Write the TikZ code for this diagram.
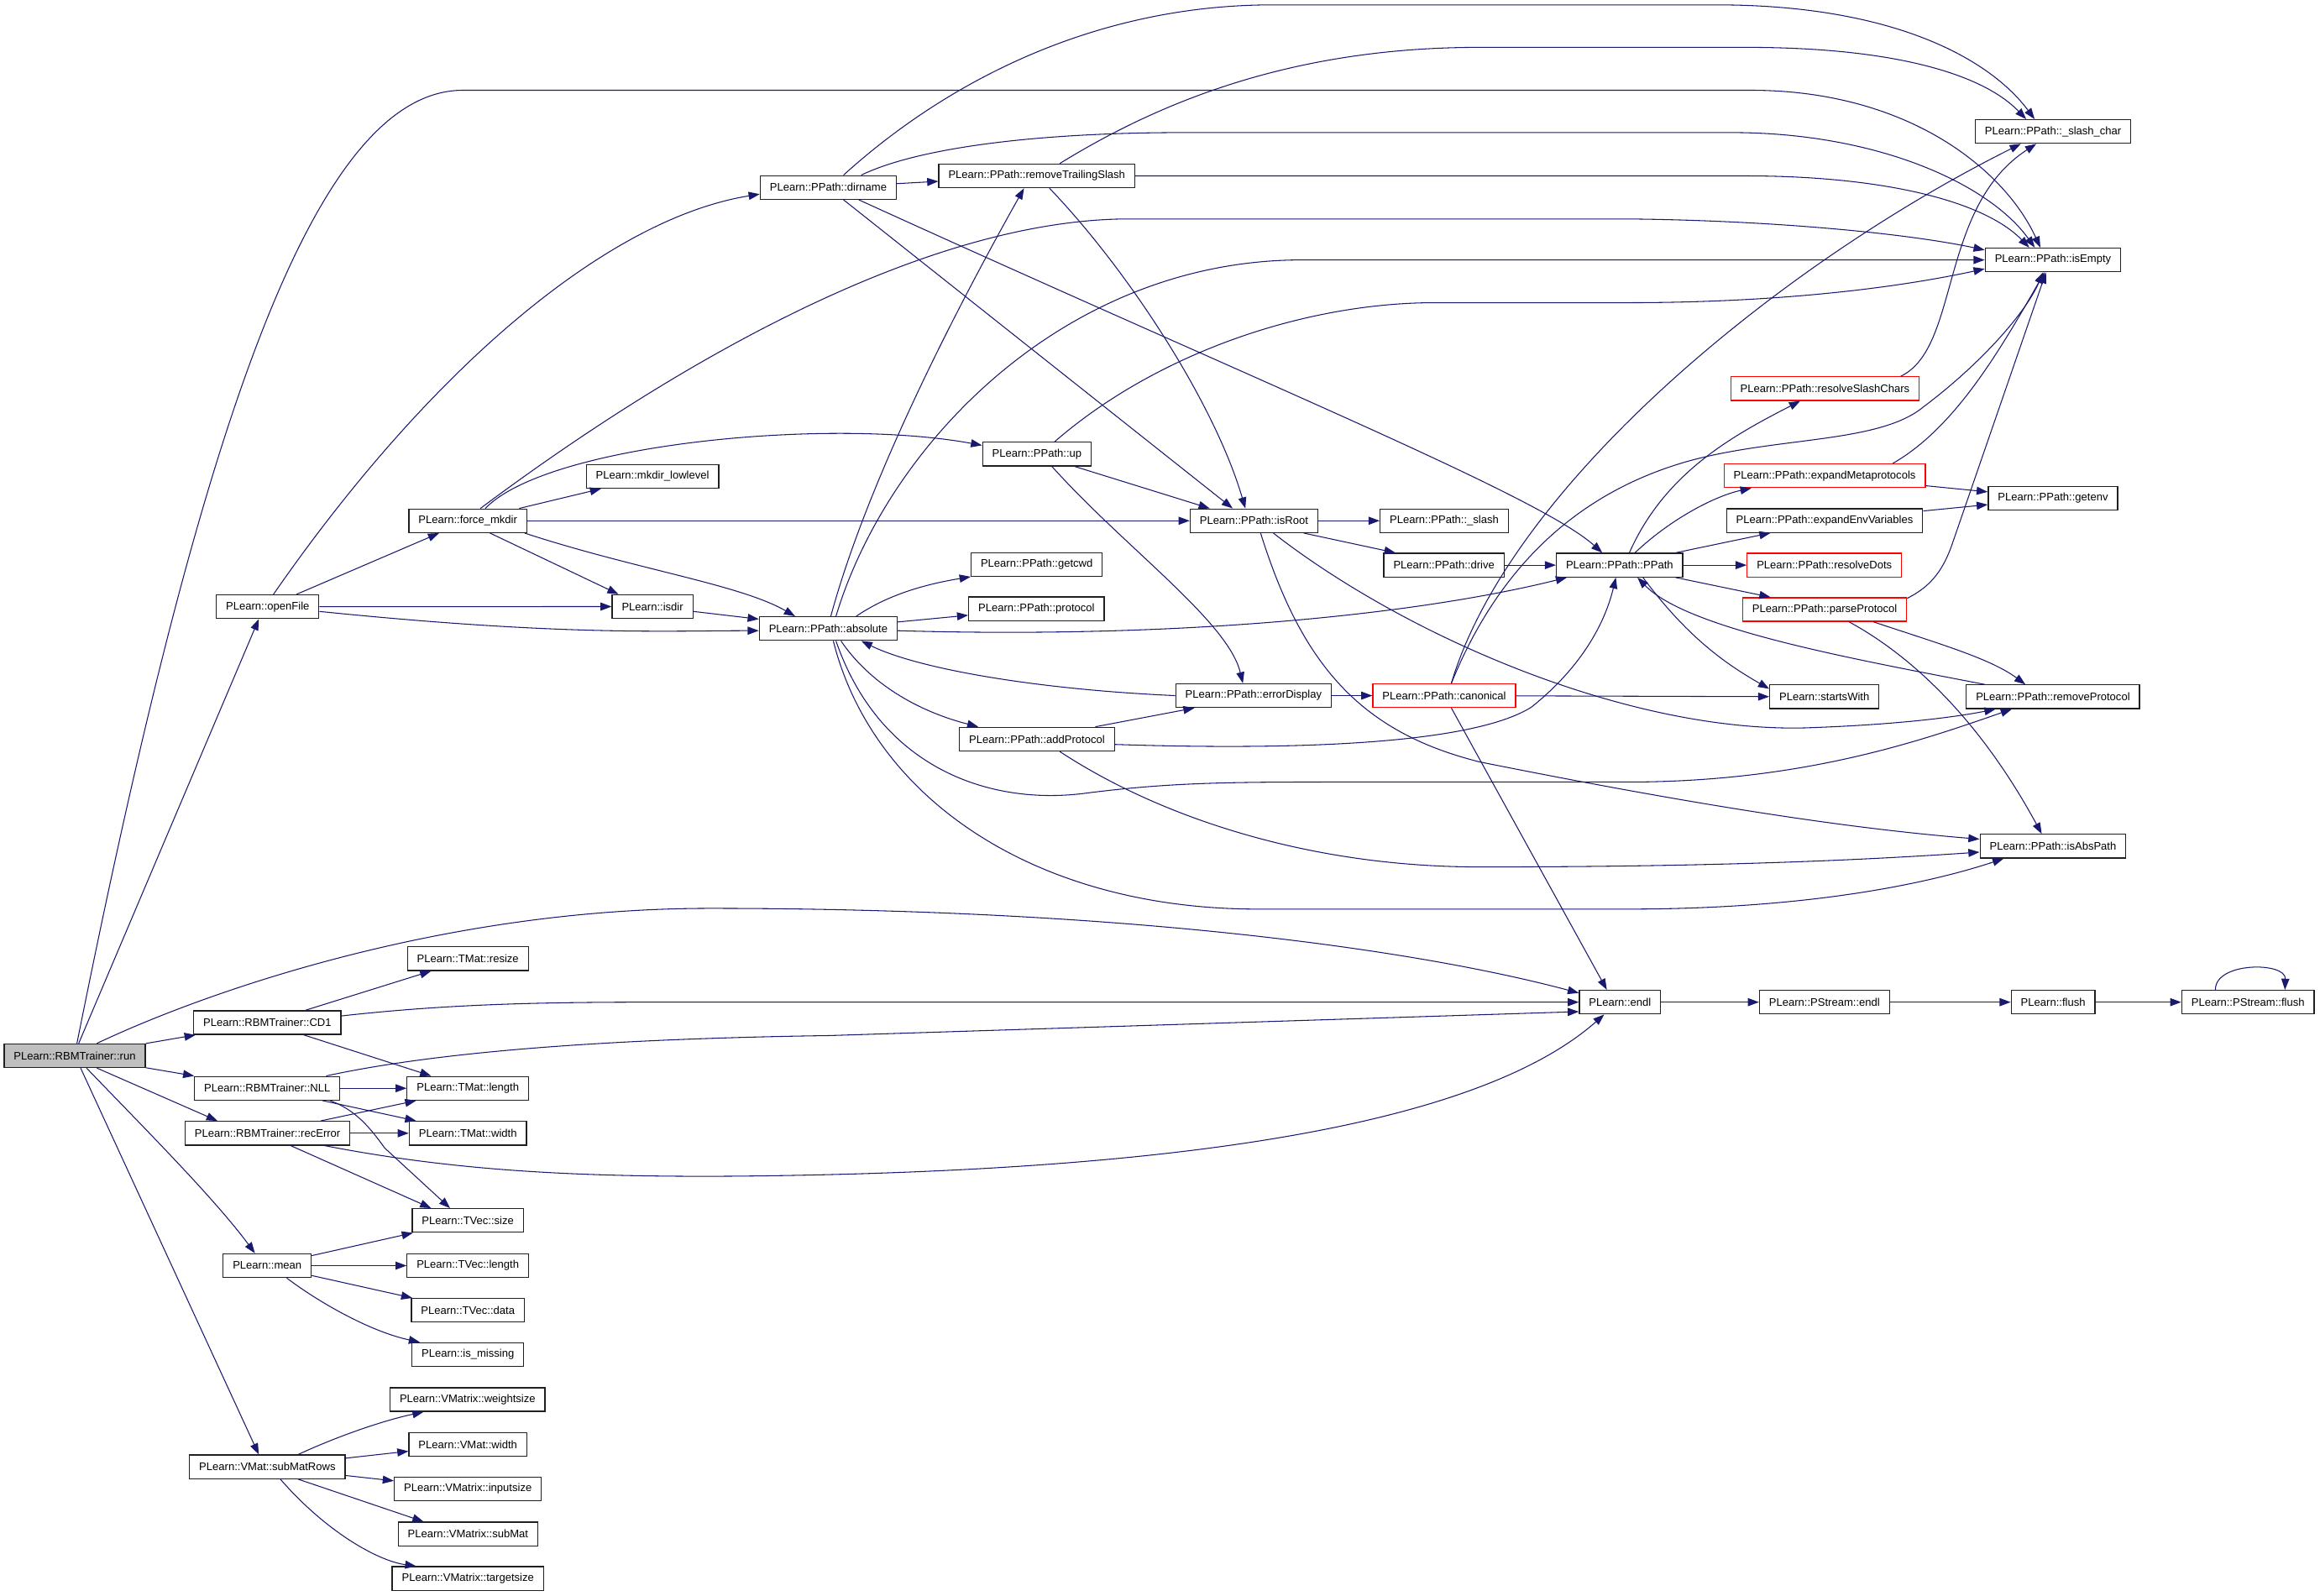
\documentclass[tikz,border=0pt]{standalone}
\usepackage{fontspec}
\setmainfont{Liberation Sans}
\usetikzlibrary{arrows.meta}
\definecolor{calledge}{HTML}{191970}
\definecolor{fnborder}{HTML}{202020}
\definecolor{fngray}{HTML}{BFBFBF}
\begin{document}
\begin{tikzpicture}[x=1pt, y=-1pt,
  fn/.style={draw=fnborder, line width=0.7pt, fill=white, minimum height=16pt,
    inner xsep=6.5pt, inner ysep=0pt, font=\fontsize{7.4}{8}\selectfont},
  fnred/.style={fn, draw=red},
  calls/.style={draw=calledge, line width=0.6pt, -{Triangle[length=7.5pt,width=5.4pt]}}]

\useasboundingbox[fill=white] (0,0) rectangle (1568,1078.8);

% Functions
\node[fn, fill=fngray] (run) at (50.5,713.6) {PLearn::RBMTrainer::run};
\node[fn] (openFile) at (180.9,410.1) {PLearn::openFile};
\node[fn] (forcemkdir) at (316.2,352) {PLearn::force\_mkdir};
\node[fn] (mkdirlow) at (441,322) {PLearn::mkdir\_lowlevel};
\node[fn] (isdir) at (441,410) {PLearn::isdir};
\node[fn] (dirname) at (559.8,126.7) {PLearn::PPath::dirname};
\node[fn] (removeTS) at (700.7,118.9) {PLearn::PPath::removeTrailingSlash};
\node[fn] (up) at (700.8,307) {PLearn::PPath::up};
\node[fn] (absolute) at (559.8,424.9) {PLearn::PPath::absolute};
\node[fn] (getcwd) at (700.7,381.5) {PLearn::PPath::getcwd};
\node[fn] (protocol) at (700.5,411.5) {PLearn::PPath::protocol};
\node[fn] (addProtocol) at (700.8,499.6) {PLearn::PPath::addProtocol};
\node[fn] (errorDisplay) at (847.2,470.2) {PLearn::PPath::errorDisplay};
\node[fn] (isRoot) at (847.5,352) {PLearn::PPath::isRoot};
\node[fn] (slash) at (976.1,352) {PLearn::PPath::\_slash};
\node[fn] (drive) at (975.9,382) {PLearn::PPath::drive};
\node[fnred] (canonical) at (976.1,470.2) {PLearn::PPath::canonical};
\node[fn] (PPath) at (1094.6,382) {PLearn::PPath::PPath};
\node[fnred] (resolveSlash) at (1233.4,262.7) {PLearn::PPath::resolveSlashChars};
\node[fnred] (expandMeta) at (1233.2,321.6) {PLearn::PPath::expandMetaprotocols};
\node[fn] (expandEnv) at (1233.2,351.9) {PLearn::PPath::expandEnvVariables};
\node[fnred] (resolveDots) at (1233,382) {PLearn::PPath::resolveDots};
\node[fnred] (parseProtocol) at (1233.2,412) {PLearn::PPath::parseProtocol};
\node[fn] (startsWith) at (1233,471) {PLearn::startsWith};
\node[fn] (slashchar) at (1387.6,88.9) {PLearn::PPath::\_slash\_char};
\node[fn] (isEmpty) at (1387.5,175.7) {PLearn::PPath::isEmpty};
\node[fn] (getenv) at (1387.5,336.8) {PLearn::PPath::getenv};
\node[fn] (removeProtocol) at (1387.5,471) {PLearn::PPath::removeProtocol};
\node[fn] (isAbsPath) at (1387.5,572) {PLearn::PPath::isAbsPath};
\node[fn] (endl) at (1094.9,677.4) {PLearn::endl};
\node[fn] (psendl) at (1233.1,677.4) {PLearn::PStream::endl};
\node[fn] (flush) at (1387.6,677.4) {PLearn::flush};
\node[fn] (psflush) at (1519.3,677.4) {PLearn::PStream::flush};
\node[fn] (CD1) at (180.7,691.2) {PLearn::RBMTrainer::CD1};
\node[fn] (resize) at (316.2,648) {PLearn::TMat::resize};
\node[fn] (NLL) at (180.6,735.6) {PLearn::RBMTrainer::NLL};
\node[fn] (tmlength) at (316.2,735.6) {PLearn::TMat::length};
\node[fn] (recError) at (180.8,766) {PLearn::RBMTrainer::recError};
\node[fn] (tmwidth) at (316.2,766) {PLearn::TMat::width};
\node[fn] (tvsize) at (316.2,825) {PLearn::TVec::size};
\node[fn] (mean) at (180.6,855.5) {PLearn::mean};
\node[fn] (tvlength) at (316.2,855.5) {PLearn::TVec::length};
\node[fn] (tvdata) at (316.2,885.7) {PLearn::TVec::data};
\node[fn] (ismissing) at (316.2,915.6) {PLearn::is\_missing};
\node[fn] (weightsize) at (316,946) {PLearn::VMatrix::weightsize};
\node[fn] (vmwidth) at (316.2,976.5) {PLearn::VMat::width};
\node[fn] (subMatRows) at (180.7,991.5) {PLearn::VMat::subMatRows};
\node[fn] (inputsize) at (316.2,1006.5) {PLearn::VMatrix::inputsize};
\node[fn] (subMat) at (316.3,1036.9) {PLearn::VMatrix::subMat};
\node[fn] (targetsize) at (316.2,1067) {PLearn::VMatrix::targetsize};

% Calls from run
\draw[calls] ([xshift=1.5pt]run.north) .. controls (135,290) and (212,61) .. (313,61) -- (1183,61) .. controls (1290,61) and (1355,115) .. ([xshift=-8.5pt]isEmpty.north);
\draw[calls] ([xshift=2.7pt]run.north) -- ([xshift=-6pt]openFile.south);
\draw[calls] ([xshift=15pt]run.north) .. controls (140,670) and (300,614) .. (480,614) .. controls (750,614) and (950,640) .. ([yshift=6.2pt]endl.west);
\draw[calls] (run) -- (CD1);
\draw[calls] (run) -- (NLL);
\draw[calls] ([xshift=15pt]run.south) -- ([xshift=-33.8pt]recError.north);
\draw[calls] ([xshift=8pt]run.south) .. controls (95,760) and (145,810) .. ([xshift=-8.3pt]mean.north);
\draw[calls] ([xshift=4pt]run.south) -- ([xshift=-5.8pt]subMatRows.north);

% openFile, force_mkdir, isdir
\draw[calls] ([xshift=3.9pt]openFile.north) .. controls (290,250) and (410,148) .. ([yshift=-4.5pt]dirname.west);
\draw[calls] (openFile) -- (forcemkdir);
\draw[calls] (openFile) -- (isdir);
\draw[calls] ([yshift=-3.2pt]openFile.east) .. controls (380,430) and (450,426.3) .. ([yshift=-1.4pt]absolute.west);
\draw[calls] ([xshift=8.5pt]forcemkdir.north) .. controls (410,280) and (600,150) .. (760,148) -- (1100,148) .. controls (1200,149) and (1290,158) .. ([yshift=6.7pt]isEmpty.west);
\draw[calls] ([xshift=11.8pt]forcemkdir.north) .. controls (370,300) and (560,282) .. ([yshift=6pt]up.west);
\draw[calls] (forcemkdir) -- (mkdirlow);
\draw[calls] (forcemkdir) -- (isRoot);
\draw[calls] ([xshift=15pt]forcemkdir.south) -- ([xshift=-23pt]isdir.north);
\draw[calls] ([xshift=38.4pt]forcemkdir.south) .. controls (430,385) and (500,395) .. ([xshift=-22.4pt]absolute.north);
\draw[calls] ([yshift=-3.3pt]isdir.east) -- ([yshift=6.4pt]absolute.west);

% dirname, removeTrailingSlash, up
\draw[calls] ([xshift=10.3pt]dirname.north) .. controls (640,55) and (740,3.3) .. (860,3.3) -- (1160,3.3) .. controls (1280,3.3) and (1345,40) .. ([xshift=-12.5pt]slashchar.north);
\draw[calls] (dirname) -- (removeTS);
\draw[calls] ([xshift=22.3pt]dirname.north) .. controls (620,100) and (700,89.6) .. (800,89.6) -- (1170,89.6) .. controls (1270,89.6) and (1345,125) .. ([xshift=-12.3pt]isEmpty.north);
\draw[calls] ([xshift=10.3pt]dirname.south) -- ([xshift=-14.4pt]isRoot.north);
\draw[calls] ([xshift=20.6pt]dirname.south) .. controls (850,258) and (1040,335) .. ([xshift=-11.7pt]PPath.north);
\draw[calls] ([xshift=15.5pt]removeTS.north) .. controls (790,65) and (880,32) .. (1000,32) -- (1180,32) .. controls (1280,32) and (1340,50) .. ([xshift=-18.2pt]slashchar.north);
\draw[calls] (removeTS.east) -- (1180,118.9) .. controls (1270,118.9) and (1340,135) .. ([xshift=-16pt]isEmpty.north);
\draw[calls] ([xshift=8.6pt]removeTS.south) .. controls (760,180) and (820,270) .. ([xshift=-5.8pt]isRoot.north);
\draw[calls] ([xshift=11.9pt]up.north) .. controls (780,240) and (880,204.6) .. (970,204.6) -- (1100,204.6) .. controls (1200,204.6) and (1280,195) .. ([yshift=-6pt]isEmpty.west);
\draw[calls] ([xshift=25.7pt]up.south) -- ([xshift=-29.9pt]isRoot.north);
\draw[calls] ([xshift=10.2pt]up.south) .. controls (760,370) and (830,420) .. ([xshift=-7.2pt]errorDisplay.north);

% absolute
\draw[calls] ([xshift=1.7pt]absolute.north) .. controls (585,330) and (640,220) .. ([xshift=-8.6pt]removeTS.south);
\draw[calls] ([xshift=5.2pt]absolute.north) .. controls (600,300) and (720,175.7) .. (880,175.7) -- (isEmpty.west);
\draw[calls] ([xshift=18.9pt]absolute.north) .. controls (600,402) and (625,395) .. (getcwd.south west);
\draw[calls] (absolute) -- (protocol);
\draw[calls] ([yshift=-1.4pt]absolute.east) .. controls (800,432) and (960,415) .. ([xshift=-35.6pt]PPath.south);
\draw[calls] ([xshift=8.6pt]absolute.south) .. controls (590,465) and (625,482) .. ([xshift=-39.6pt]addProtocol.north);
\draw[calls] ([xshift=5.2pt]absolute.south) .. controls (595,520) and (670,545) .. (735,536) .. controls (790,529) and (830,528.6) .. (900,528.6) -- (1100,528.6) .. controls (1220,528.6) and (1300,500) .. ([xshift=-27.8pt]removeProtocol.south);
\draw[calls] ([xshift=3.4pt]absolute.south) .. controls (590,540) and (700,614.5) .. (850,614.5) -- (1100,614.5) .. controls (1230,614.5) and (1310,595) .. ([xshift=-33.3pt]isAbsPath.south);

% errorDisplay, addProtocol
\draw[calls] (errorDisplay.west) .. controls (700,466) and (620,452) .. ([xshift=22.3pt]absolute.south);
\draw[calls] (errorDisplay) -- (canonical);
\draw[calls] ([xshift=39.5pt]addProtocol.north) -- ([xshift=-39.9pt]errorDisplay.south);
\draw[calls] ([yshift=-3.6pt]addProtocol.east) .. controls (900,508) and (1000,500) .. (1035,478) .. controls (1070,450) and (1085,420) .. ([xshift=-2.5pt]PPath.south);
\draw[calls] ([xshift=15.4pt]addProtocol.south) .. controls (780,550) and (880,586) .. (1000,586) .. controls (1150,586) and (1250,582) .. ([yshift=-4pt]isAbsPath.west);

% isRoot, drive
\draw[calls] (isRoot) -- (slash);
\draw[calls] ([xshift=33.7pt]isRoot.south) -- ([xshift=-32.8pt]drive.north);
\draw[calls] ([xshift=13.1pt]isRoot.south) .. controls (950,430) and (1100,495) .. (1220,492) .. controls (1280,490) and (1320,485) .. ([xshift=-38.8pt]removeProtocol.south);
\draw[calls] ([xshift=4.5pt]isRoot.south) .. controls (880,450) and (920,495) .. (1000,515) .. controls (1150,545) and (1250,560) .. ([yshift=4.8pt]isAbsPath.west);
\draw[calls] (drive) -- (PPath);

% canonical
\draw[calls] ([xshift=4.8pt]canonical.north) .. controls (1020,330) and (1200,180) .. ([xshift=-21.8pt]slashchar.south);
\draw[calls] ([xshift=4.8pt]canonical.north) .. controls (1010,390) and (1060,335) .. (1140,312) .. controls (1200,295) and (1270,300) .. (1300,275) .. controls (1340,245) and (1370,210) .. ([xshift=-6.7pt]isEmpty.south);
\draw[calls] (canonical) -- (startsWith);
\draw[calls] ([xshift=4.8pt]canonical.south) -- ([xshift=-8.9pt]endl.north);

% PPath and its callees
\draw[calls] ([xshift=6.6pt]PPath.north) .. controls (1125,320) and (1170,295) .. ([xshift=-16.7pt]resolveSlash.south);
\draw[calls] ([xshift=10.4pt]PPath.north) .. controls (1130,350) and (1160,335) .. ([xshift=-49.5pt]expandMeta.south);
\draw[calls] ([xshift=37.8pt]PPath.north) -- ([xshift=-36.6pt]expandEnv.south);
\draw[calls] (PPath) -- (resolveDots);
\draw[calls] ([xshift=37.8pt]PPath.south) -- ([xshift=-36.6pt]parseProtocol.north);
\draw[calls] ([xshift=15.8pt]PPath.south) .. controls (1140,430) and (1165,448) .. ([yshift=5.4pt]startsWith.west);
\draw[calls] ([xshift=-46pt]removeProtocol.north) .. controls (1250,445) and (1140,425) .. ([xshift=12.1pt]PPath.south);
\draw[calls] ([yshift=7.6pt]parseProtocol.east) .. controls (1306,396) and (1314,384) .. (1320,366) -- ([xshift=-4.7pt]isEmpty.south);
\draw[calls] ([xshift=46pt]expandMeta.north) .. controls (1320,290) and (1350,240) .. ([xshift=-5.7pt]isEmpty.south);
\draw[calls] (expandMeta) -- (getenv);
\draw[calls] (expandEnv) -- (getenv);
\draw[calls] ([xshift=51.2pt]resolveSlash.north) .. controls (1325,235) and (1310,140) .. ([xshift=-11.4pt]slashchar.south);
\draw[calls] ([xshift=33pt]parseProtocol.south) .. controls (1310,435) and (1345,445) .. ([xshift=-18.6pt]removeProtocol.north);
\draw[calls] ([xshift=16.5pt]parseProtocol.south) .. controls (1295,445) and (1340,490) .. ([xshift=-7.6pt]isAbsPath.north);

% endl chain
\draw[calls] (endl) -- (psendl);
\draw[calls] (psendl) -- (flush);
\draw[calls] (flush) -- (psflush);
\draw[calls] ([xshift=-22pt]psflush.north) .. controls (1497,650) and (1545,650) .. ([xshift=25pt]psflush.north);

% CD1, NLL, recError
\draw[calls] ([xshift=25.8pt]CD1.north) -- ([xshift=-24.8pt]resize.south);
\draw[calls] ([yshift=4.5pt]CD1.east) .. controls (300,679) and (360,677.4) .. (440,677.4) -- (endl.west);
\draw[calls] ([xshift=24.6pt]CD1.south) -- ([xshift=-24.8pt]tmlength.north);
\draw[calls] ([xshift=39.9pt]NLL.north) .. controls (300,710) and (420,702) .. (560,700) -- ([yshift=-6.4pt]endl.west);
\draw[calls] (NLL) -- (tmlength);
\draw[calls] ([xshift=37.4pt]NLL.south) -- ([xshift=-34.9pt]tmwidth.north);
\draw[calls] ([xshift=42.4pt]NLL.south) .. controls (240,750) and (250,762) .. (260,776) -- ([xshift=-12pt]tvsize.north);
\draw[calls] ([xshift=35.9pt]recError.north) -- ([xshift=-34.9pt]tmlength.south);
\draw[calls] (recError) -- (tmwidth);
\draw[calls] ([xshift=15.6pt]recError.south) -- ([xshift=-24.8pt]tvsize.north);
\draw[calls] ([xshift=38.4pt]recError.south) .. controls (300,790) and (380,796) .. (500,795) .. controls (800,792) and (1000,760) .. ([xshift=-10.7pt]endl.south);

% mean, subMatRows
\draw[calls] (mean) -- (tvsize);
\draw[calls] (mean) -- (tvlength);
\draw[calls] (mean) -- (tvdata);
\draw[calls] ([xshift=13.2pt]mean.south) .. controls (215,880) and (250,900) .. ([xshift=-32.4pt]ismissing.north);
\draw[calls] ([xshift=20.8pt]subMatRows.north) .. controls (230,970) and (260,960) .. ([xshift=-29.7pt]weightsize.south);
\draw[calls] (subMatRows) -- (vmwidth);
\draw[calls] (subMatRows) -- (inputsize);
\draw[calls] ([xshift=20.8pt]subMatRows.south) -- ([xshift=-30pt]subMat.north);
\draw[calls] ([xshift=8.8pt]subMatRows.south) .. controls (220,1035) and (255,1055) .. ([xshift=-34.9pt]targetsize.north);

\end{tikzpicture}
\end{document}
